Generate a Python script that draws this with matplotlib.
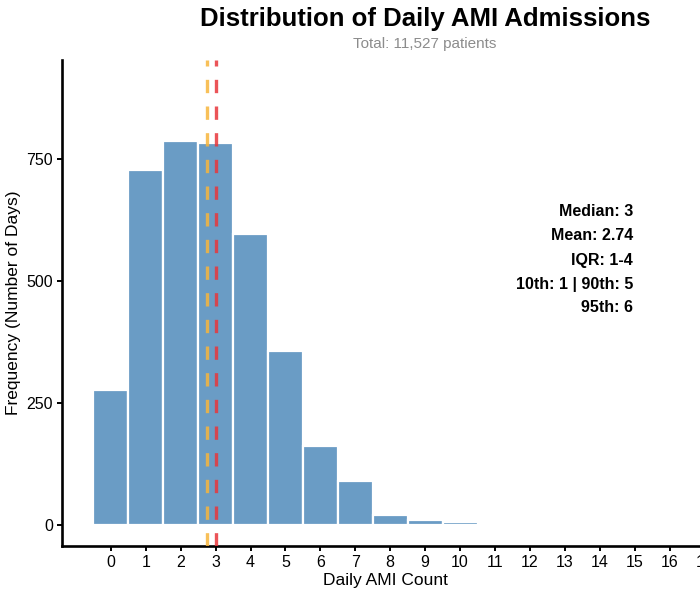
import matplotlib
matplotlib.use("Agg")
import matplotlib.pyplot as plt

# Data
counts = [0, 1, 2, 3, 4, 5, 6, 7, 8, 9, 10]
days = [276, 726, 786, 782, 595, 356, 161, 90, 20, 10, 5]
x_ticks = list(range(0, 18))
y_ticks = [0, 250, 500, 750]
mean_val = 2.74
median_val = 3
stats_lines = ["Median: 3", "Mean: 2.74", "IQR: 1-4", "10th: 1 | 90th: 5", "95th: 6"]
title = "Distribution of Daily AMI Admissions"
subtitle = "Total: 11,527 patients"

plt.rcParams['font.family'] = ['Liberation Sans', 'DejaVu Sans']

W, H = 700, 594
fig = plt.figure(figsize=(W / 100, H / 100), dpi=100)
left_px, right_px, top_px, bot_px = 62, 708, 60, 546
ax = fig.add_axes([left_px / W, 1 - bot_px / H, (right_px - left_px) / W, (bot_px - top_px) / H])

ax.bar(counts, days, width=1.0, color="#6A9CC5", edgecolor="white", linewidth=1.6, zorder=2)

ax.axvline(mean_val, color="#F7B53C", alpha=0.85, lw=2.4, ls=(0, (4, 4)), zorder=3)
ax.axvline(median_val, color="#E8363B", alpha=0.85, lw=2.4, ls=(0, (4, 4)), zorder=3)

ax.set_xlim(-1.4, 17.1)
ax.set_ylim(-44, 952)
ax.set_xticks(x_ticks)
ax.set_yticks(y_ticks)
ax.tick_params(axis='both', direction='out', length=3.5, width=1.4, labelsize=11.5, colors='black', pad=3)

for s in ['top', 'right']:
    ax.spines[s].set_visible(False)
for s in ['left', 'bottom']:
    ax.spines[s].set_linewidth(1.9)
    ax.spines[s].set_color('black')

ax.set_xlabel("Daily AMI Count", fontsize=12.5, labelpad=2)
ax.set_ylabel("Frequency (Number of Days)", fontsize=12.5, labelpad=4)

# stats annotation (right aligned)
ys_px = [211, 236, 260, 284, 308]
for t, yp in zip(stats_lines, ys_px):
    fig.text(633 / W, 1 - yp / H, t, ha='right', va='center', fontsize=11.5, fontweight='bold')

fig.text(425 / W, 1 - 19 / H, title, ha='center', va='center', fontsize=18.5, fontweight='bold')
fig.text(425 / W, 1 - 44 / H, subtitle, ha='center', va='center', fontsize=11, color='#8C8C8C')

fig.savefig("out.png", dpi=100)
